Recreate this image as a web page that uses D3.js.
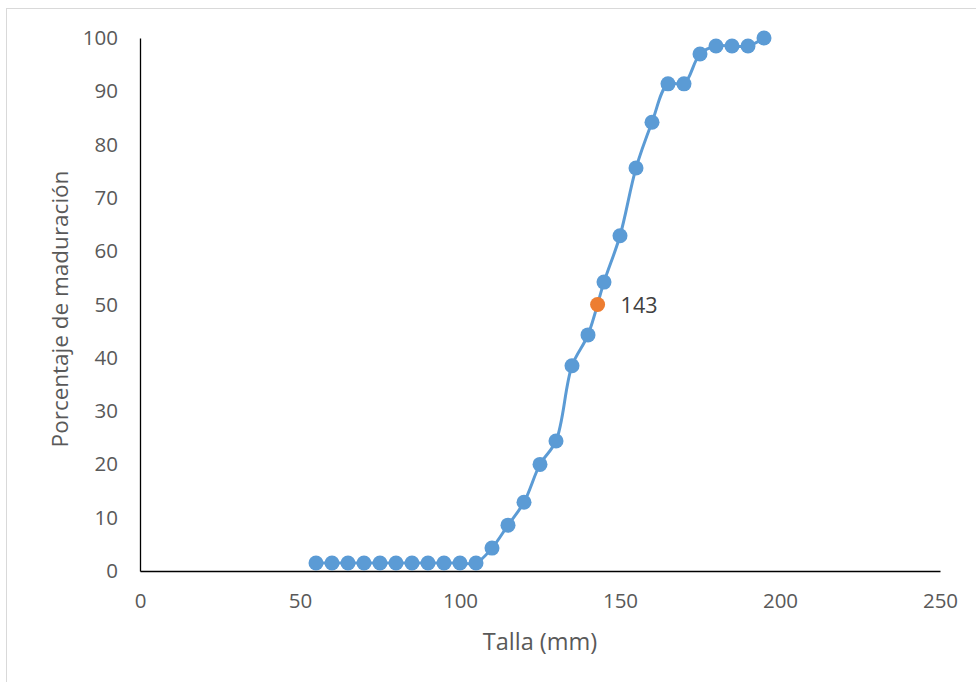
<!DOCTYPE html>
<html><head><meta charset="utf-8">
<script src="https://cdn.jsdelivr.net/npm/d3@7"></script>
<style>body{margin:0;background:#fff}svg{display:block}</style>
</head><body>
<script>
const tallas = [55,60,65,70,75,80,85,90,95,100,105,110,115,120,125,130,135,140,145,150,155,160,165,170,175,180,185,190,195];
const porcentajes = [1.5,1.5,1.5,1.5,1.5,1.5,1.5,1.5,1.5,1.5,1.5,4.3,8.6,12.9,20,24.4,38.5,44.3,54.2,62.9,75.6,84.2,91.4,91.4,97,98.5,98.5,98.5,100];
const l50 = {x:143, y:50, label:"143"};
const xTicks = [0,50,100,150,200,250];
const yTicks = [0,10,20,30,40,50,60,70,80,90,100];

const W=976,H=682;
const svg=d3.select("body").append("svg").attr("width",W).attr("height",H);
svg.append("rect").attr("x",6.5).attr("y",8.5).attr("width",W).attr("height",H).attr("fill","#fff").attr("stroke","#d9d9d9");
const x=d3.scaleLinear().domain([0,250]).range([140,940]);
const y=d3.scaleLinear().domain([0,100]).range([571,38]);
const font="'Open Sans', sans-serif";

const gx=svg.append("g").attr("transform","translate(0,571)").call(d3.axisBottom(x).tickValues(xTicks).tickSize(0).tickPadding(22));
gx.select(".domain").attr("stroke","#000").attr("stroke-width",1.3);
gx.selectAll("text").attr("font-family",font).attr("font-size",20.5).attr("fill","#595959");
const gy=svg.append("g").attr("transform","translate(140,0)").call(d3.axisLeft(y).tickValues(yTicks).tickSize(0).tickPadding(22));
gy.select(".domain").attr("stroke","#000").attr("stroke-width",1.3);
gy.selectAll("text").attr("font-family",font).attr("font-size",20.5).attr("fill","#595959");

svg.append("text").attr("x",540).attr("y",650).attr("text-anchor","middle").attr("font-family",font).attr("font-size",23.5).attr("fill","#595959").text("Talla (mm)");
svg.append("text").attr("transform","translate(68,309) rotate(-90)").attr("text-anchor","middle").attr("font-family",font).attr("font-size",22.5).attr("fill","#595959").text("Porcentaje de maduración");

const data=tallas.map((t,i)=>({x:t,y:porcentajes[i]}));
svg.append("path").datum(data).attr("fill","none").attr("stroke","#5b9bd5").attr("stroke-width",3)
  .attr("d",d3.line().x(d=>x(d.x)).y(d=>y(d.y)).curve(d3.curveCatmullRom.alpha(0.5)));
svg.selectAll("circle.p").data(data).enter().append("circle").attr("class","p")
  .attr("cx",d=>x(d.x)).attr("cy",d=>y(d.y)).attr("r",7.5).attr("fill","#5b9bd5");
svg.append("circle").attr("cx",x(l50.x)).attr("cy",y(l50.y)).attr("r",7.5).attr("fill","#ed7d31");
svg.append("text").attr("x",x(l50.x)+23).attr("y",y(l50.y)+8).attr("font-family",font).attr("font-size",21.5).attr("fill","#404040").text(l50.label);
</script>
</body></html>
